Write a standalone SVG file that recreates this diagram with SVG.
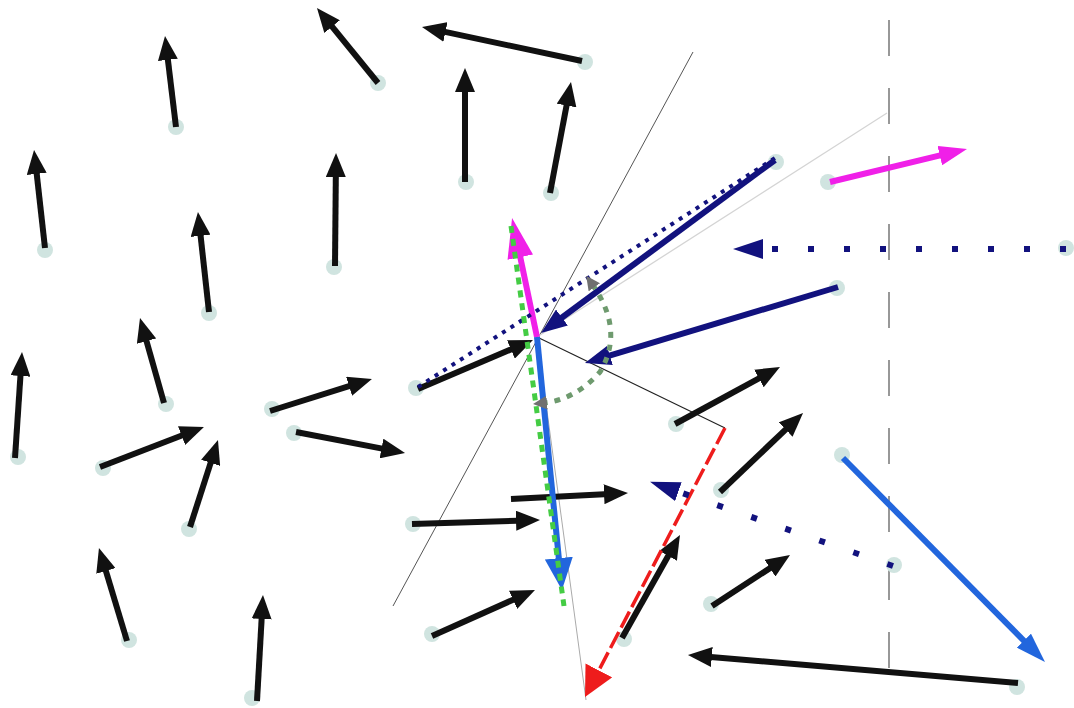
<svg xmlns="http://www.w3.org/2000/svg" width="1074" height="708" viewBox="0 0 1074 708">
<defs>
<style>
.dot{fill:#d0e4e0}
.blk{stroke:#111;stroke-width:6;fill:none}
.nav{stroke:#12127e;stroke-width:6;fill:none}
.navdot{stroke:#12127e;stroke-width:6;fill:none;stroke-dasharray:6 30}
.thin{fill:none}
</style>
<marker id="hb" markerUnits="userSpaceOnUse" markerWidth="24" markerHeight="20" refX="10" refY="10" orient="auto"><path d="M0,0 L24,10 L0,20 z" fill="#111"/></marker>
<marker id="hn" markerUnits="userSpaceOnUse" markerWidth="26" markerHeight="20" refX="10" refY="10" orient="auto"><path d="M0,0 L26,10 L0,20 z" fill="#12127e"/></marker>
<marker id="hnd" markerUnits="userSpaceOnUse" markerWidth="30" markerHeight="20" refX="2" refY="10" orient="auto"><path d="M0,0 L30,10 L0,20 z" fill="#12127e"/></marker>
<marker id="hmL" markerUnits="userSpaceOnUse" markerWidth="40" markerHeight="26" refX="14" refY="13" orient="auto"><path d="M0,0 L40,13 L0,26 z" fill="#f020e8"/></marker>
<marker id="hmS" markerUnits="userSpaceOnUse" markerWidth="28" markerHeight="20" refX="10" refY="10" orient="auto"><path d="M0,0 L28,10 L0,20 z" fill="#f020e8"/></marker>
<marker id="hbl" markerUnits="userSpaceOnUse" markerWidth="32" markerHeight="28" refX="12" refY="14" orient="auto"><path d="M0,0 L32,14 L0,28 z" fill="#2266dd"/></marker>
<marker id="hblS" markerUnits="userSpaceOnUse" markerWidth="30" markerHeight="20" refX="10" refY="10" orient="auto"><path d="M0,0 L30,10 L0,20 z" fill="#2266dd"/></marker>
<marker id="hr" markerUnits="userSpaceOnUse" markerWidth="30" markerHeight="30" refX="4" refY="15" orient="auto"><path d="M0,0 L30,15 L0,30 z" fill="#ee1c1c"/></marker>
<marker id="hg" markerUnits="userSpaceOnUse" markerWidth="14" markerHeight="14" refX="4" refY="7" orient="auto-start-reverse"><path d="M0,0 L14,7 L0,14 z" fill="#707070"/></marker>
</defs>
<rect width="1074" height="708" fill="#fff"/>

<g id="guides" class="thin">
<line x1="889" y1="20" x2="889" y2="670" stroke="#777" stroke-width="1.5" stroke-dasharray="36 32"/>
<line x1="393" y1="606" x2="693" y2="52" stroke="#555" stroke-width="1"/>
<line x1="537" y1="337" x2="887" y2="113" stroke="#d4d4d4" stroke-width="1.3"/>
<line x1="537" y1="337" x2="586" y2="700" stroke="#aaa" stroke-width="1"/>
<line x1="537" y1="337" x2="725" y2="428" stroke="#222" stroke-width="1.2"/>
</g>

<g id="nodes">
<circle class="dot" cx="176" cy="127" r="8"/>
<circle class="dot" cx="378" cy="83" r="8"/>
<circle class="dot" cx="45" cy="250" r="8"/>
<circle class="dot" cx="209" cy="313" r="8"/>
<circle class="dot" cx="334" cy="267" r="8"/>
<circle class="dot" cx="166" cy="404" r="8"/>
<circle class="dot" cx="18" cy="457" r="8"/>
<circle class="dot" cx="103" cy="468" r="8"/>
<circle class="dot" cx="189" cy="529" r="8"/>
<circle class="dot" cx="272" cy="409" r="8"/>
<circle class="dot" cx="294" cy="433" r="8"/>
<circle class="dot" cx="129" cy="640" r="8"/>
<circle class="dot" cx="252" cy="698" r="8"/>
<circle class="dot" cx="585" cy="62" r="8"/>
<circle class="dot" cx="466" cy="182" r="8"/>
<circle class="dot" cx="551" cy="193" r="8"/>
<circle class="dot" cx="416" cy="388" r="8"/>
<circle class="dot" cx="676" cy="424" r="8"/>
<circle class="dot" cx="721" cy="490" r="8"/>
<circle class="dot" cx="711" cy="604" r="8"/>
<circle class="dot" cx="1017" cy="687" r="8"/>
<circle class="dot" cx="413" cy="524" r="8"/>
<circle class="dot" cx="432" cy="634" r="8"/>
<circle class="dot" cx="624" cy="639" r="8"/>
<circle class="dot" cx="776" cy="162" r="8"/>
<circle class="dot" cx="837" cy="288" r="8"/>
<circle class="dot" cx="1066" cy="248" r="8"/>
<circle class="dot" cx="894" cy="565" r="8"/>
<circle class="dot" cx="828" cy="182" r="8"/>
<circle class="dot" cx="842" cy="455" r="8"/>
</g>

<g id="connectors">
<line class="blk" x1="176" y1="127" x2="166.7" y2="49.9" marker-end="url(#hb)"/>
<line class="blk" x1="378" y1="83" x2="325.8" y2="18.9" marker-end="url(#hb)"/>
<line class="blk" x1="45" y1="248" x2="35.6" y2="163.9" marker-end="url(#hb)"/>
<line class="blk" x1="209" y1="312" x2="199.5" y2="225.9" marker-end="url(#hb)"/>
<line class="blk" x1="335" y1="266" x2="335.9" y2="167" marker-end="url(#hb)"/>
<line class="blk" x1="164" y1="403" x2="143.8" y2="331.5" marker-end="url(#hb)"/>
<line class="blk" x1="15" y1="458" x2="21.1" y2="366" marker-end="url(#hb)"/>
<line class="blk" x1="100" y1="467" x2="190.9" y2="432" marker-end="url(#hb)"/>
<line class="blk" x1="190" y1="527" x2="213.7" y2="453.3" marker-end="url(#hb)"/>
<line class="blk" x1="270" y1="411" x2="358.6" y2="383.2" marker-end="url(#hb)"/>
<line class="blk" x1="296" y1="432" x2="391.3" y2="450.4" marker-end="url(#hb)"/>
<line class="blk" x1="127" y1="641" x2="103" y2="561.4" marker-end="url(#hb)"/>
<line class="blk" x1="257" y1="701" x2="262.2" y2="609" marker-end="url(#hb)"/>
<line class="blk" x1="582" y1="61" x2="435.7" y2="29.9" marker-end="url(#hb)"/>
<line class="blk" x1="465" y1="182" x2="465" y2="82" marker-end="url(#hb)"/>
<line class="blk" x1="550" y1="193" x2="568.4" y2="95.7" marker-end="url(#hb)"/>
<line class="blk" x1="418" y1="389" x2="520.1" y2="345.5" marker-end="url(#hb)"/>
<line class="blk" x1="675" y1="424" x2="767.7" y2="373.7" marker-end="url(#hb)"/>
<line class="blk" x1="720" y1="492" x2="792.9" y2="422.6" marker-end="url(#hb)"/>
<line class="blk" x1="712" y1="606" x2="778.3" y2="562.7" marker-end="url(#hb)"/>
<line class="blk" x1="1018" y1="683" x2="701.9" y2="656.2" marker-end="url(#hb)"/>
<line class="blk" x1="412" y1="524" x2="526" y2="520.4" marker-end="url(#hb)"/>
<line class="blk" x1="511" y1="499" x2="614" y2="493.7" marker-end="url(#hb)"/>
<line class="blk" x1="432" y1="636" x2="522.2" y2="595.7" marker-end="url(#hb)"/>
<line class="blk" x1="622" y1="638" x2="673.1" y2="547.2" marker-end="url(#hb)"/>

<line x1="725" y1="428" x2="597" y2="673.9" stroke="#ee1c1c" stroke-width="3.5" stroke-dasharray="18 5" marker-end="url(#hr)"/>

<line x1="537" y1="337" x2="517.4" y2="243.5" stroke="#f020e8" stroke-width="6" marker-end="url(#hmL)"/>
<line x1="537" y1="337" x2="560" y2="570.1" stroke="#2266dd" stroke-width="6" marker-end="url(#hbl)"/>
<line x1="830" y1="182" x2="949.5" y2="153.2" stroke="#f020e8" stroke-width="6" marker-end="url(#hmS)"/>
<line x1="843" y1="458" x2="1030.9" y2="647.8" stroke="#2266dd" stroke-width="6" marker-end="url(#hblS)"/>

<line x1="418" y1="387" x2="775" y2="158" stroke="#12127e" stroke-width="4" stroke-dasharray="4 6"/>
<line class="nav" x1="775" y1="160" x2="553.9" y2="323.5" marker-end="url(#hn)"/>
<line class="nav" x1="838" y1="287" x2="600.3" y2="358.4" marker-end="url(#hn)"/>
<line class="navdot" x1="1066" y1="249" x2="761" y2="249" marker-end="url(#hnd)"/>
<line class="navdot" x1="893" y1="566" x2="676.5" y2="491" stroke-width="5" marker-end="url(#hnd)"/>

<path d="M592,284 Q625,330 600,372 Q575,400 543,403" fill="none" stroke="#6e9a6e" stroke-width="5" stroke-dasharray="6 7" marker-start="url(#hg)" marker-end="url(#hg)"/>

<line x1="511" y1="226" x2="564" y2="606" stroke="#44cc44" stroke-width="5" stroke-dasharray="7 6"/>
</g>
</svg>
